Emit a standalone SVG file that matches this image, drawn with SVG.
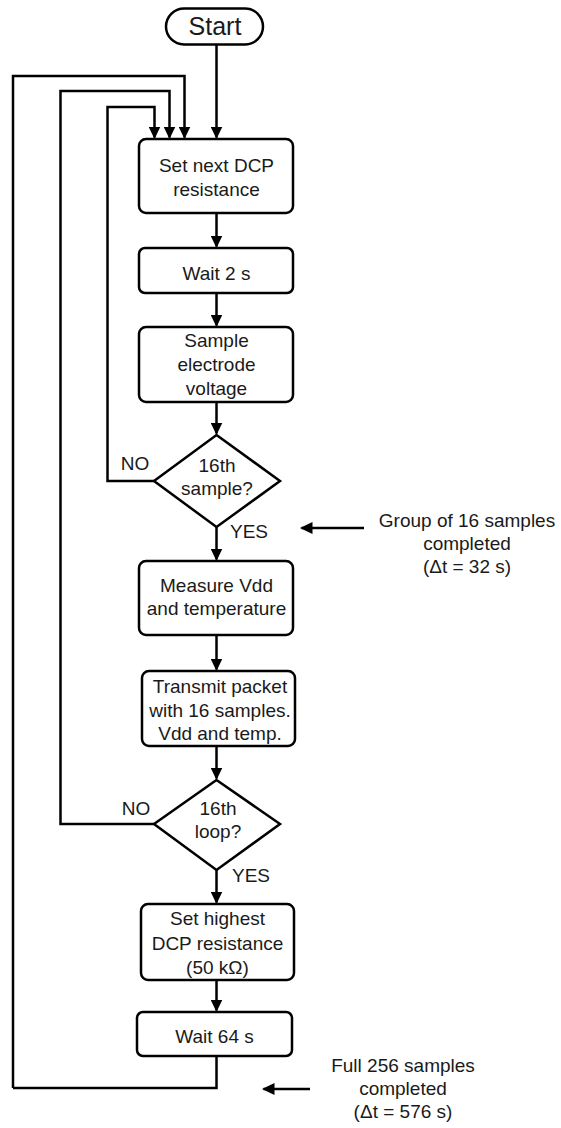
<svg xmlns="http://www.w3.org/2000/svg" width="561" height="1128" viewBox="0 0 561 1128">
<defs>
<marker id="ah" markerUnits="userSpaceOnUse" markerWidth="13" markerHeight="12" refX="11" refY="6" orient="auto">
<path d="M0,0 L12.5,6 L0,12 Z" fill="#000"/>
</marker>
<style>
.n{fill:#fff;stroke:#000;stroke-width:2.5}
.c{fill:none;stroke:#000;stroke-width:2.5}
.a{marker-end:url(#ah)}
text{font-family:"Liberation Sans",Arial,sans-serif;font-size:19px;fill:#1a1a1a;text-anchor:middle}
</style>
</defs>
<rect width="561" height="1128" fill="#fff"/>
<g id="connectors">
<path class="c a" d="M216.5,45 V137.5"/>
<path class="c a" d="M13,1088 V76 H184.5 V137.5"/>
<path class="c a" d="M154,824 H60.5 V91 H169.5 V137.5"/>
<path class="c a" d="M154,481 H107.5 V107 H154.5 V137.5"/>
<path class="c a" d="M216.5,213 V246.5"/>
<path class="c a" d="M216.5,293 V325.5"/>
<path class="c a" d="M216.5,402 V433.5"/>
<path class="c a" d="M216.5,527 V559.5"/>
<path class="c a" d="M216.5,635 V669.5"/>
<path class="c a" d="M216.5,746 V778.5"/>
<path class="c a" d="M216.5,870 V902.5"/>
<path class="c a" d="M216.5,980 V1010.5"/>
<path class="c" d="M216.5,1056 V1088 H13"/>
<path class="c a" d="M364,528 H301.5"/>
<path class="c a" d="M310,1089 H263.5"/>
</g>
<g id="start">
<rect class="n" x="166" y="8.5" width="97" height="36" rx="18"/>
<text x="215" y="35" style="font-size:25px">Start</text>
</g>
<g id="set-next">
<rect class="n" x="139" y="139" width="154" height="74" rx="7"/>
<text x="216.5" y="172">Set next DCP</text>
<text x="216.5" y="196">resistance</text>
</g>
<g id="wait2">
<rect class="n" x="139" y="248" width="154" height="45" rx="6"/>
<text x="216.5" y="280">Wait 2 s</text>
</g>
<g id="sample">
<rect class="n" x="139" y="327" width="154" height="75" rx="7"/>
<text x="216.5" y="347">Sample</text>
<text x="216.5" y="371">electrode</text>
<text x="216.5" y="395">voltage</text>
</g>
<g id="dec-sample">
<polygon class="n" points="216.5,435 280,481 216.5,527 154,481"/>
<text x="217" y="472">16th</text>
<text x="217" y="495">sample?</text>
<text x="135" y="470">NO</text>
<text x="230" y="538" style="text-anchor:start">YES</text>
</g>
<g id="measure">
<rect class="n" x="139" y="561" width="154" height="74" rx="7"/>
<text x="216.5" y="592">Measure Vdd</text>
<text x="216.5" y="615">and temperature</text>
</g>
<g id="transmit">
<rect class="n" x="142" y="671" width="153" height="75" rx="7"/>
<text x="220" y="693">Transmit packet</text>
<text x="220" y="717">with 16 samples.</text>
<text x="220" y="740">Vdd and temp.</text>
</g>
<g id="dec-loop">
<polygon class="n" points="216.5,780 280,824 216.5,870 154,824"/>
<text x="218" y="815">16th</text>
<text x="218" y="838">loop?</text>
<text x="136" y="815">NO</text>
<text x="232" y="882" style="text-anchor:start">YES</text>
</g>
<g id="set-highest">
<rect class="n" x="141" y="904" width="153" height="76" rx="7"/>
<text x="217.5" y="925">Set highest</text>
<text x="217.5" y="950">DCP resistance</text>
<text x="217.5" y="974">(50 kΩ)</text>
</g>
<g id="wait64">
<rect class="n" x="137" y="1012" width="155" height="44" rx="6"/>
<text x="214.5" y="1043">Wait 64 s</text>
</g>
<g id="note-group">
<text x="467" y="527">Group of 16 samples</text>
<text x="467" y="550">completed</text>
<text x="467" y="573">(Δt = 32 s)</text>
</g>
<g id="note-full">
<text x="403" y="1072">Full 256 samples</text>
<text x="403" y="1095">completed</text>
<text x="403" y="1118">(Δt = 576 s)</text>
</g>
</svg>
